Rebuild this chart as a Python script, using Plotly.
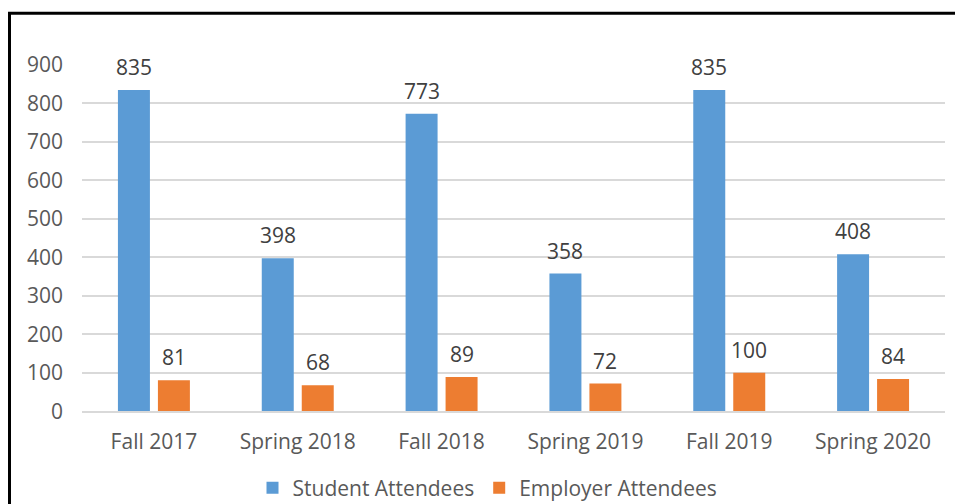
import plotly.graph_objects as go

terms = ["Fall 2017", "Spring 2018", "Fall 2018", "Spring 2019", "Fall 2019", "Spring 2020"]
students = [835, 398, 773, 358, 835, 408]
employers = [81, 68, 89, 72, 100, 84]

font_name = "Open Sans, Liberation Sans, sans-serif"
FS = 21

fig = go.Figure()
fig.add_trace(go.Bar(x=terms, y=students, name="Student Attendees",
                     marker=dict(color="#5B9BD5", line=dict(width=0))))
fig.add_trace(go.Bar(x=terms, y=employers, name="Employer Attendees",
                     marker=dict(color="#ED7D31", line=dict(width=0))))

# value labels above the bars
for vals, shift in [(students, -20), (employers, 20)]:
    for t, v in zip(terms, vals):
        fig.add_annotation(x=t, y=v, text=str(v), showarrow=False, xshift=shift,
                           yanchor="bottom", yshift=7,
                           font=dict(size=FS, color="#404040"))

# page has 8px body margin; the figure runs past the bottom of the window like the original
W, H = 955, 504
L, R, T, B = 74, 18, 57, 93
pw, ph = W - L - R, H - T - B
def px(x): return (x - 8 - L) / pw
def py(y): return (8 + H - B - y) / ph

# frame around chart (left and top edges visible)
fig.add_shape(type="line", xref="paper", yref="paper", x0=px(9.5), x1=px(9.5), y0=py(12), y1=py(520),
              line=dict(color="black", width=3))
fig.add_shape(type="line", xref="paper", yref="paper", x0=px(8), x1=px(980), y0=py(12), y1=py(12),
              line=dict(color="black", width=3))

fig.update_layout(
    width=W, height=H,
    margin=dict(l=L, r=R, t=T, b=B),
    plot_bgcolor="white", paper_bgcolor="white",
    barmode="group", bargap=0.444, bargroupgap=0.2,
    font=dict(family=font_name, size=FS, color="#595959"),
    legend=dict(orientation="h", x=0.5 - 26 / pw, xanchor="center", yref="container",
                y=(H + 8 - 488) / H, yanchor="middle",
                font=dict(size=FS, color="#595959"), traceorder="normal"),
)
fig.update_yaxes(range=[0, 900], dtick=100, showgrid=True, gridcolor="#D9D9D9", gridwidth=2,
                 zeroline=False, showline=False, ticks="", ticklabelstandoff=18,
                 tickfont=dict(size=FS, color="#595959"))
fig.update_xaxes(showline=True, linecolor="#D9D9D9", linewidth=2, ticks="",
                 tickfont=dict(size=FS, color="#595959"), ticklabelstandoff=11)

fig.write_html("out.html")
